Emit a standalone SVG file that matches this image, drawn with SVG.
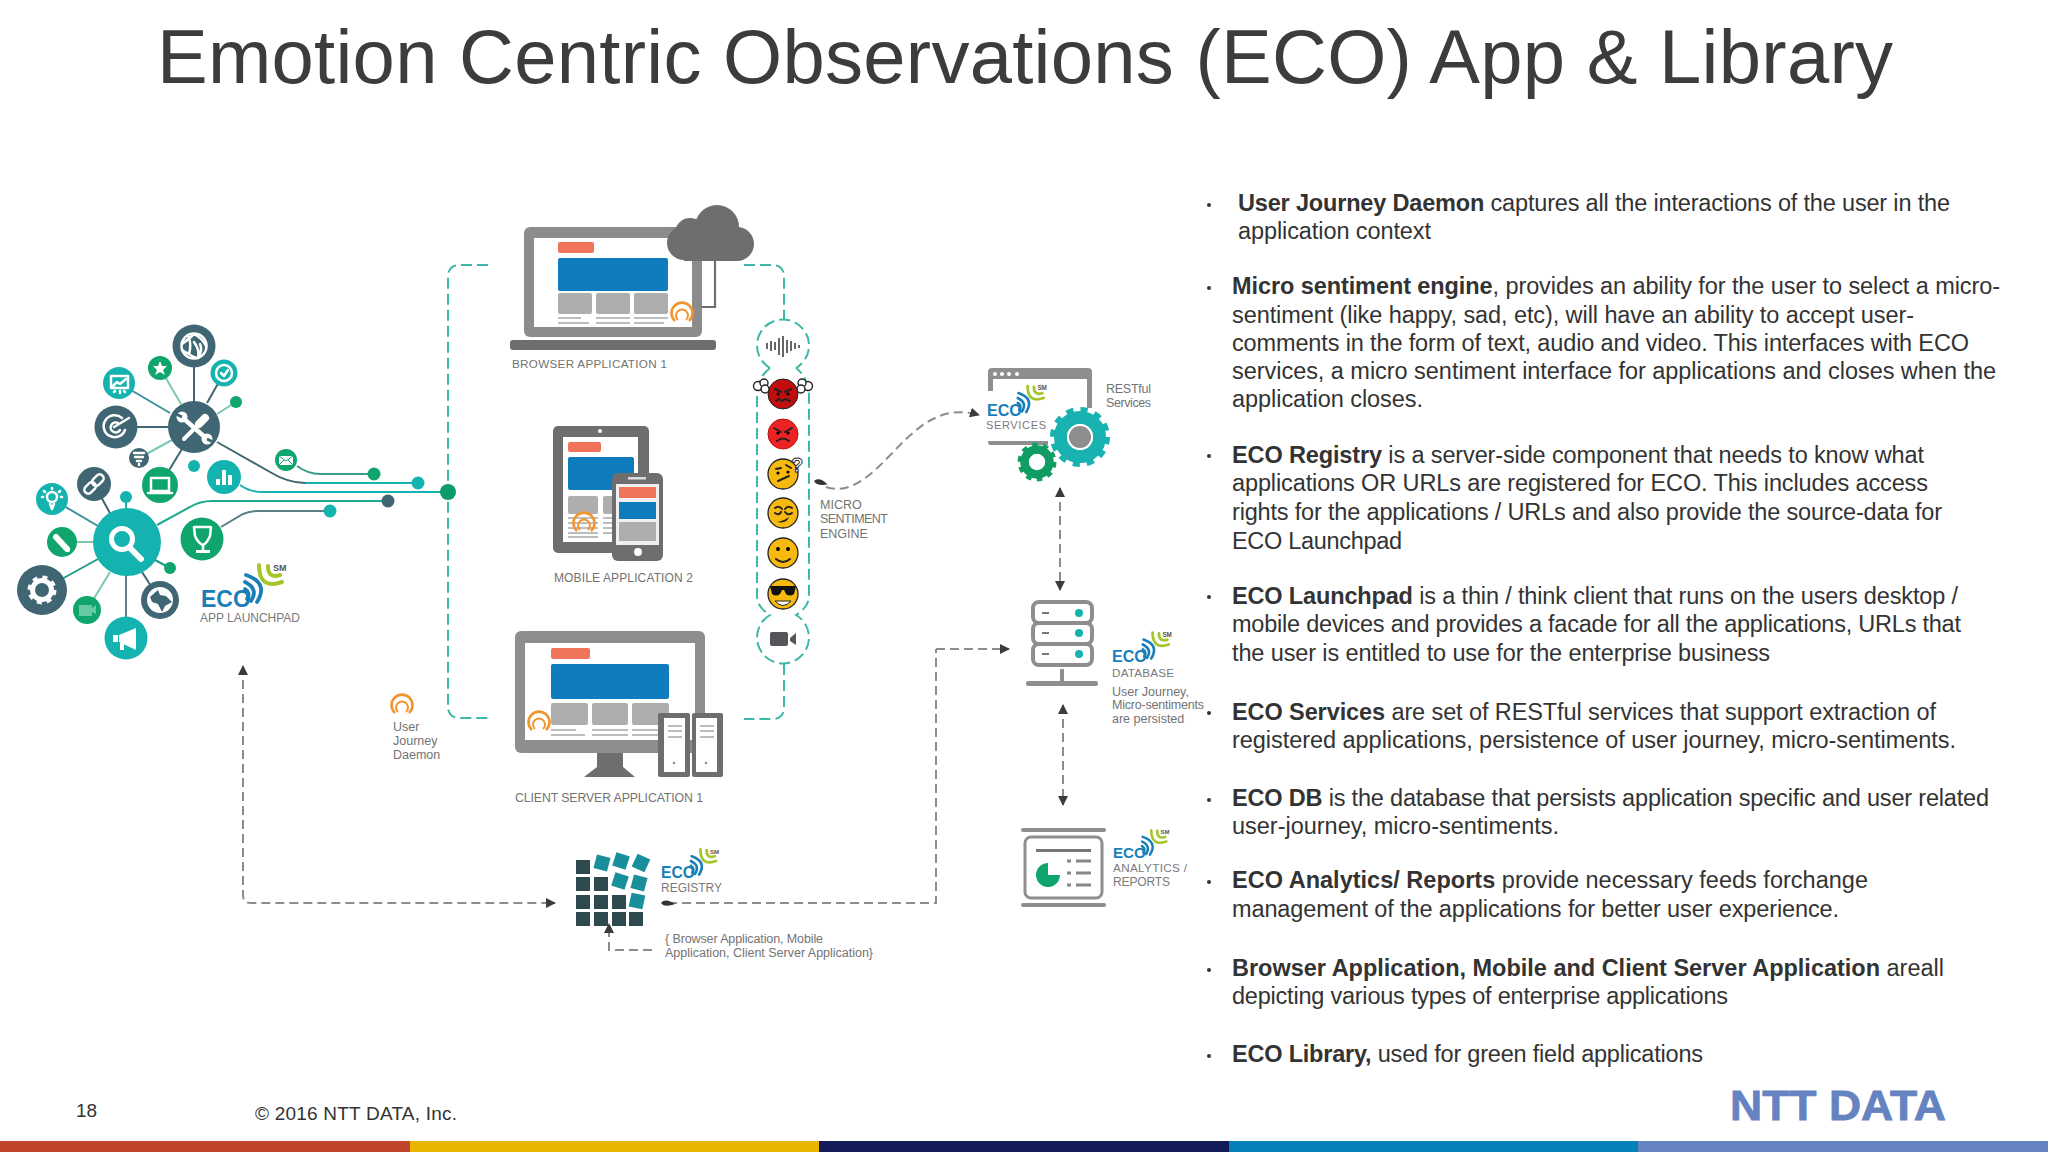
<svg xmlns="http://www.w3.org/2000/svg" xmlns:xlink="http://www.w3.org/1999/xlink" width="2048" height="1152" viewBox="0 0 2048 1152">
<style>
text{font-family:"Liberation Sans",Arial,sans-serif}
.title{font-size:76px;fill:#3c3c3c}
.b{font-size:23.5px;fill:#333}
.b tspan{font-weight:bold}
.g{font-size:12.5px;fill:#737373}
.eco{font-size:23px;font-weight:bold;fill:#1a7fb8}
.sm{font-size:9px;font-weight:bold;fill:#555}
.ec{font-size:11.7px;fill:#7a7a7a}
.tdash{fill:none;stroke:#3db8a8;stroke-width:2;stroke-dasharray:11 5}
.dash{fill:none;stroke:#8c8c8c;stroke-width:2;stroke-dasharray:9 5}
.sp{fill:none;stroke-width:2}
.dk{fill:#3f6672}.te{fill:#15b3b0}.gr{fill:#0fa56d}
.wf{fill:#fff}.ws{fill:none;stroke:#fff;stroke-width:2.5;stroke-linecap:round;stroke-linejoin:round}
.red{fill:#f0745c}.blu{fill:#0f7dbd}.gry{fill:#aeaeae}.ln{stroke:#a8a8a8;stroke-width:1.6}
.em{fill:#f7b90f;stroke:#222;stroke-width:1.3}
.ef{fill:none;stroke:#222;stroke-width:2;stroke-linecap:round}
.dark{fill:#2f4a4f}.tile{fill:#1a8f9c}
</style>
<defs>
<marker id="ah" viewBox="0 0 10 10" refX="9" refY="5" markerWidth="10" markerHeight="10" markerUnits="userSpaceOnUse" orient="auto-start-reverse"><path d="M0,0L10,5L0,10z" fill="#3b3b3b"/></marker>
<g id="arcs" fill="none" stroke-linecap="round">
<g stroke="#1a7fb8" stroke-width="3.8"><path d="M45,-32Q68,-24 56,-5"/><path d="M44,-25Q58,-18 50,-6"/><path d="M44,-18Q50,-14 46,-8"/></g>
<g stroke="#a4c62a" stroke-width="4"><path d="M58,-42Q58,-17 81,-25"/><path d="M67,-41Q67,-28 79,-32"/></g>
</g>
<g id="ujd" fill="none" stroke="#f0942e"><path stroke-width="2.6" d="M-7,8A10.5,10.5 0 1 1 7,8"/><path stroke-width="2" d="M-4,7A6,6 0 1 1 4,7"/></g>
<path id="drop" d="M0,0C3,-4 8,-3 14,1C8,3 3,4 0,0z" fill="#333"/>
</defs>
<rect width="2048" height="1152" fill="#fff"/>
<text class="title" x="157" y="83" textLength="1736">Emotion Centric Observations (ECO) App &amp; Library</text>

<g id="connectors">
<g id="cluster-lines">
<path class="sp" stroke="#3f6672" d="M217,442L270,472Q288,483 305,483H412"/>
<path class="sp" stroke="#15b3b0" d="M305,483H412"/>
<path class="sp" stroke="#3f9c8c" d="M297,466Q308,474 320,474H374"/>
<path class="sp" stroke="#15b3b0" d="M240,485Q250,492 262,492H448"/>
<path class="sp" stroke="#1ca98e" d="M157,525L190,507Q200,501 212,501H388"/>
<path class="sp" stroke="#5a7f86" d="M221,527L243,514Q250,511 258,511H330"/>
<path class="sp" stroke="#3f6672" d="M194,346V427"/>
<path class="sp" stroke="#7cc7ae" d="M160,368L181,404"/>
<path class="sp" stroke="#3f6672" d="M224,373L207,403"/>
<path class="sp" stroke="#7cc7ae" d="M236,402L217,414"/>
<path class="sp" stroke="#3f8f9c" d="M119,383L170,413"/>
<path class="sp" stroke="#3f6672" d="M116,427H170"/>
<path class="sp" stroke="#7cc7ae" d="M139,458L172,440"/>
<path class="sp" stroke="#3f6672" d="M160,485L182,449"/>
<path class="sp" stroke="#3f6672" d="M94,484L111,515"/>
<path class="sp" stroke="#15b3b0" d="M126,497V512"/>
<path class="sp" stroke="#3f8f9c" d="M52,499L98,526"/>
<path class="sp" stroke="#7cc7ae" d="M62,542H95"/>
<path class="sp" stroke="#1f9c80" d="M42,590L98,559"/>
<path class="sp" stroke="#7cc7ae" d="M87,610L110,572"/>
<path class="sp" stroke="#5f7f88" d="M126,638V575"/>
<path class="sp" stroke="#3f6672" d="M160,600L142,572"/>
<path class="sp" stroke="#1f9c80" d="M170,568L155,560"/>
</g>
<path class="tdash" d="M488,265H460Q448,265 448,277V706Q448,718 460,718H488"/>
<path class="tdash" d="M744,265H772Q784,265 784,277V320"/>
<path class="tdash" d="M784,664V707Q784,719 772,719H744"/>
<path class="dash" marker-start="url(#ah)" d="M243,666V895Q243,903 251,903H546"/>
<path class="dash" marker-end="url(#ah)" d="M546,903H555"/>
<path class="dash" d="M668,903H936V649"/>
<path class="dash" marker-end="url(#ah)" d="M936,649H1009"/>
<use href="#drop" transform="translate(661,903)"/>
<path class="dash" stroke-width="1.6" marker-end="url(#ah)" d="M652,950H609V924"/>
<path class="dash" marker-end="url(#ah)" d="M826,487C855,497 880,465 900,445C922,423 945,405 979,415"/>
<use href="#drop" transform="translate(814,481) rotate(10)"/>
<path class="dash" stroke="#666" marker-start="url(#ah)" marker-end="url(#ah)" d="M1060,488V590"/>
<path class="dash" marker-start="url(#ah)" marker-end="url(#ah)" d="M1063,705V805"/>
<circle cx="374" cy="474" r="6.5" class="gr"/>
<circle cx="418" cy="483" r="6.5" class="te"/>
<circle cx="448" cy="492" r="8" fill="#0c9c6a"/>
<circle cx="388" cy="501" r="6.5" class="dk"/>
<circle cx="330" cy="511" r="6.5" class="te"/>
</g>

<g id="launchpad">
<g id="hub-search"><circle cx="127" cy="542" r="34" class="te"/><circle cx="122" cy="539" r="10.5" fill="none" stroke="#fff" stroke-width="5"/><path d="M130,548L141,559" stroke="#fff" stroke-width="6" stroke-linecap="round"/></g>
<g id="hub-tools"><circle cx="194" cy="427" r="26" class="dk"/><path d="M183,418L207,439" stroke="#fff" stroke-width="4.5" stroke-linecap="round"/><path d="M199,424L184,439" stroke="#fff" stroke-width="4" stroke-linecap="round"/><path d="M205,418L199,424" stroke="#fff" stroke-width="8" stroke-linecap="round"/><circle cx="182" cy="417" r="5.5" class="wf"/><path d="M176,414L182,417" stroke="#3f6672" stroke-width="3"/><circle cx="207" cy="439" r="5.5" class="wf"/><path d="M213,442L207,439" stroke="#3f6672" stroke-width="3"/></g>
<g id="n-globe"><circle cx="194" cy="346" r="21.5" class="dk"/><circle cx="194" cy="346" r="12.5" class="ws" stroke-width="1.8"/><path class="ws" stroke-width="1.1" d="M182,344Q190,338 194,334Q202,338 206,346M188,335Q192,344 189,354Q194,358 198,358Q200,350 194,342M189,354Q184,352 182,350M200,344Q203,350 198,358"/></g>
<g id="n-star"><circle cx="160" cy="368" r="12" class="gr"/><path class="wf" d="M160,361L162,366L167,366L163,370L165,375L160,372L155,375L157,370L153,366L158,366z"/></g>
<g id="n-clock"><circle cx="224" cy="373" r="13.5" class="te"/><circle cx="224" cy="373" r="8" class="ws" stroke-width="1.5"/><path class="ws" stroke-width="1.3" d="M221,373L224,376L228,370"/></g>
<circle id="n-d1" cx="236" cy="402" r="6" class="gr"/>
<g id="n-chart"><circle cx="119" cy="383" r="16" class="te"/><rect x="111" y="376" width="17" height="12" class="ws" stroke-width="1.4"/><path class="ws" stroke-width="1.3" d="M113,386L117,382L120,384L126,379M115,391L114,392M120,391V393M124,391L125,392"/></g>
<g id="n-target"><circle cx="116" cy="427" r="21.5" class="dk"/><path class="ws" stroke-width="2.2" d="M122,418A11,11 0 1 0 125,430"/><path class="ws" stroke-width="1.8" d="M118,423A5,5 0 1 0 120,430"/><path class="ws" stroke-width="2.2" d="M114,427L129,418"/></g>
<g id="n-funnel"><circle cx="139" cy="458" r="10" class="dk"/><path class="ws" stroke-width="2" d="M134,453H144M135,457H143M137,461H141M139,464V465"/></g>
<g id="n-laptop"><circle cx="160" cy="485" r="18" class="gr"/><rect x="151" y="478" width="18" height="13" class="ws" stroke-width="1.5"/><path class="ws" stroke-width="1.5" d="M148,493H172"/></g>
<circle id="n-d2" cx="194" cy="466" r="6" class="te"/>
<g id="n-bars"><circle cx="224" cy="477" r="17" class="te"/><path d="M218,479h4v6h-4zM224,470h4v15h-4zM230,475h4v10h-4z" class="wf" transform="translate(-2,0)"/></g>
<g id="n-mail"><circle cx="286" cy="460" r="11" class="gr"/><rect x="279" y="456" width="14" height="9" class="wf"/><path d="M279,456L286,461L293,456M279,465L284,460M293,465L288,460" fill="none" stroke="#0fa56d" stroke-width="1"/></g>
<g id="n-link"><circle cx="94" cy="484" r="17" class="dk"/><g transform="rotate(-45 94 484)"><rect x="82" y="480" width="13" height="8" rx="4" class="ws"/><rect x="93" y="480" width="13" height="8" rx="4" class="ws"/></g></g>
<circle id="n-d3" cx="126" cy="497" r="6" class="te"/>
<g id="n-bulb"><circle cx="52" cy="499" r="16" class="te"/><circle cx="52" cy="497" r="5" class="ws" stroke-width="1.6"/><path class="ws" stroke-width="2" d="M50,504L52,509L54,504"/><path class="ws" stroke-width="1.2" d="M52,488V489M44,491L45,492M60,491L59,492M42,497H43M61,497H62"/></g>
<g id="n-pencil"><circle cx="62" cy="542" r="15" class="gr"/><path d="M56,537L67,549" stroke="#fff" stroke-width="6" stroke-linecap="round"/><path d="M70,552L64,550L68,546z" class="wf"/></g>
<g id="n-gear"><circle cx="42" cy="590" r="25" class="dk"/><circle cx="42" cy="590" r="9.5" fill="none" stroke="#fff" stroke-width="5"/><circle cx="42" cy="590" r="12.5" fill="none" stroke="#fff" stroke-width="4" stroke-dasharray="4.9 4.92"/></g>
<g id="n-video"><circle cx="87" cy="610" r="14" class="gr"/><rect x="79" y="605" width="13" height="11" fill="#66c9a2"/><path d="M92,608L96,605V614L92,612z" fill="#66c9a2"/></g>
<g id="n-mega"><circle cx="126" cy="638" r="21.5" class="te"/><path class="wf" d="M113,635h5v7h-5zM119,635L136,628V650L119,642zM120,643h4v7h-4z"/></g>
<g id="n-globe2"><circle cx="160" cy="600" r="19" class="dk"/><circle cx="160" cy="600" r="13" class="wf"/><path class="dk" d="M150,597L158,590L160,595L166,596L172,602L165,606L162,612L158,604L152,602z"/></g>
<circle id="n-d4" cx="170" cy="568" r="6" class="gr"/>
<g id="n-trophy"><circle cx="202" cy="539" r="21.5" class="gr"/><path class="ws" stroke-width="2" d="M194,527H211L210,536Q207,543 203,545Q198,543 195,536zM203,545V551"/><path class="wf" d="M196,550h14v3h-14z"/></g>
<g id="logo-launchpad" transform="translate(201,607)"><use href="#arcs"/><text class="eco" x="0" y="0">ECO</text><text class="sm" x="72" y="-36">SM</text></g>
<text class="ec" x="200" y="622" font-size="12" style="font-size:12px" textLength="100">APP LAUNCHPAD</text>
</g>

<g id="browser-app">
<rect x="524" y="227" width="178" height="110" rx="6" fill="#8c8c8c"/>
<rect x="534" y="238" width="158" height="89" fill="#fff"/>
<rect x="558" y="242" width="36" height="11" rx="2" class="red"/>
<rect x="558" y="258" width="110" height="33" rx="2" class="blu"/>
<rect x="558" y="293" width="34" height="21" rx="2" class="gry"/><rect x="596" y="293" width="34" height="21" rx="2" class="gry"/><rect x="634" y="293" width="34" height="21" rx="2" class="gry"/>
<path class="ln" d="M558,318H581M558,323H589M596,318H630M596,323H630M634,318H668M634,323H664"/>
<rect x="510" y="340" width="206" height="10" rx="3" fill="#6e6e6e"/>
<path d="M715,258V307H701" fill="none" stroke="#6e6e6e" stroke-width="2.2"/>
<g fill="#6e6e6e"><circle cx="717" cy="227" r="22"/><circle cx="690" cy="233" r="15"/><circle cx="684" cy="243" r="17"/><circle cx="737" cy="244" r="17"/><rect x="684" y="235" width="53" height="26"/></g>
<use href="#ujd" transform="translate(682,313)"/>
<text class="g" style="font-size:11.7px" x="512" y="368" textLength="155">BROWSER APPLICATION 1</text>
</g>

<g id="mobile-app">
<rect x="553" y="426" width="96" height="127" rx="5" fill="#6e6e6e"/>
<rect x="563" y="437" width="75" height="105" fill="#fff"/>
<circle cx="600" cy="431" r="2" class="wf"/>
<rect x="568" y="442" width="33" height="10" rx="2" class="red"/>
<rect x="568" y="457" width="66" height="33" rx="2" class="blu"/>
<rect x="568" y="496" width="30" height="18" rx="2" class="gry"/><rect x="603" y="496" width="32" height="18" rx="2" class="gry"/>
<path class="ln" d="M568,518H598M568,523H598M568,528H598M568,533H598M568,537H598M603,518H625M603,523H625M603,528H625M603,533H625"/>
<use href="#ujd" transform="translate(584,523)"/>
<rect x="612" y="473" width="51" height="88" rx="6" fill="#6e6e6e"/>
<rect x="616" y="484" width="43" height="61" fill="#f0f0f0"/>
<rect x="628" y="477" width="18" height="2.5" fill="#ddd"/>
<rect x="619" y="487" width="37" height="11" class="red"/>
<rect x="619" y="502" width="37" height="17" class="blu"/>
<rect x="619" y="522" width="37" height="19" class="gry"/>
<circle cx="638" cy="552" r="4" class="wf"/>
<text class="g" style="font-size:12px" x="554" y="582" textLength="139">MOBILE APPLICATION 2</text>
</g>

<g id="client-server-app">
<path fill="#6e6e6e" d="M597,750H623V767L635,777H584L597,767z"/>
<rect x="515" y="631" width="190" height="122" rx="6" fill="#8e8e8e"/>
<rect x="525" y="643" width="170" height="97" fill="#fff"/>
<rect x="551" y="648" width="39" height="11" rx="2" class="red"/>
<rect x="551" y="664" width="118" height="35" rx="2" class="blu"/>
<rect x="551" y="703" width="37" height="22" rx="2" class="gry"/><rect x="592" y="703" width="36" height="22" rx="2" class="gry"/><rect x="632" y="703" width="37" height="22" rx="2" class="gry"/>
<path class="ln" d="M551,730H576M551,735H585M592,730H628M592,735H628M632,730H669M632,735H669"/>
<use href="#ujd" transform="translate(539,722)"/>
<rect x="658" y="713" width="32" height="64" rx="2" fill="#6e6e6e"/><rect x="692" y="713" width="31" height="64" rx="2" fill="#6e6e6e"/>
<rect x="664" y="718" width="21" height="54" class="wf"/><rect x="696" y="718" width="21" height="54" class="wf"/>
<path class="ln" stroke-width="2" d="M668,726H682M668,731H682M668,737H682M700,726H714M700,731H714M700,737H714"/>
<circle cx="674" cy="763" r="1.2" fill="#888"/><circle cx="706" cy="763" r="1.2" fill="#888"/>
<text class="g" style="font-size:12.3px" x="515" y="802" textLength="188">CLIENT SERVER APPLICATION 1</text>
</g>

<g id="user-journey-daemon">
<use href="#ujd" transform="translate(402,705)"/>
<text class="g" x="393" y="731">User</text><text class="g" x="393" y="745">Journey</text><text class="g" x="393" y="759">Daemon</text>
</g>

<g id="micro-sentiment-engine">
<path class="tdash" d="M770,368A26,26 0 1 1 796,368"/>
<path class="tdash" d="M770,368Q757,378 757,396V596Q757,607 770,615A26,26 0 1 0 796,615Q809,607 809,596V396Q809,378 796,368"/>
<g fill="#666"><rect x="766" y="343" width="2" height="6"/><rect x="770" y="341" width="2" height="10"/><rect x="774" y="342" width="2" height="8"/><rect x="778" y="338" width="2" height="17"/><rect x="782" y="336" width="2" height="21"/><rect x="786" y="340" width="2" height="13"/><rect x="790" y="341" width="2" height="10"/><rect x="794" y="343" width="2" height="6"/><rect x="798" y="345" width="2" height="3"/></g>
<g id="emoji-1"><circle cx="783" cy="394" r="15" fill="#c00d0d" stroke="#222"/><path d="M775,389L781,392M791,389L785,392M776,401L779,399L782,401L785,399L790,401" class="ef" stroke-width="1.6"/><circle cx="778" cy="394" r="1.5"/><circle cx="788" cy="394" r="1.5"/></g>
<g fill="#fff" stroke="#222" stroke-width="1.4"><circle cx="758" cy="386" r="4.5"/><circle cx="764" cy="383" r="4"/><circle cx="765" cy="389" r="4"/><circle cx="808" cy="386" r="4.5"/><circle cx="802" cy="383" r="4"/><circle cx="801" cy="389" r="4"/></g>
<g id="emoji-2"><circle cx="783" cy="434" r="15" fill="#ed2224" stroke="#b11"/><path d="M774,428L781,432M792,428L785,432M777,441Q783,436 789,441" class="ef"/><circle cx="778" cy="433" r="1.6"/><circle cx="788" cy="433" r="1.6"/></g>
<g id="emoji-3"><circle cx="783" cy="474" r="15" class="em"/><path d="M776,469L781,468M786,465L791,468M778,481L789,476" class="ef"/><circle cx="778" cy="473" r="1.6"/><circle cx="788" cy="472" r="1.6"/><text x="791" y="472" font-size="20" font-weight="bold" fill="#fff" stroke="#222" stroke-width=".9">?</text></g>
<g id="emoji-4"><circle cx="783" cy="513" r="15" class="em"/><path d="M775,508Q779,505 782,509M785,509Q788,505 792,508M775,513Q779,516 781,512M785,512Q788,516 792,513" class="ef" stroke-width="1.5"/><path d="M777,522Q784,521 789,517Q787,524 777,522z" fill="#222"/></g>
<g id="emoji-5"><circle cx="783" cy="553" r="15" class="em"/><path d="M776,559Q783,565 790,559" class="ef"/><circle cx="778" cy="549" r="2"/><circle cx="788" cy="549" r="2"/></g>
<g id="emoji-6"><circle cx="783" cy="594" r="15" class="em"/><path d="M770,586H796L794,594Q790,597 786,594L784,590H782L780,594Q776,597 772,594z" fill="#111"/><path d="M775,601Q783,610 791,601z" fill="#fff" stroke="#222"/></g>
<g fill="#55555a"><rect x="770" y="632" width="18" height="14" rx="2"/><path d="M790,638L796,633V645L790,641z"/></g>
<text class="g" x="820" y="509">MICRO</text><text class="g" x="820" y="523" textLength="68">SENTIMENT</text><text class="g" x="820" y="538">ENGINE</text>
</g>

<g id="eco-registry">
<g class="dark"><rect x="576" y="912" width="14" height="14"/><rect x="594" y="912" width="14" height="14"/><rect x="612" y="912" width="14" height="14"/><rect x="629" y="912" width="14" height="14"/><rect x="576" y="895" width="14" height="14"/><rect x="594" y="895" width="14" height="14"/><rect x="612" y="895" width="14" height="14"/><rect x="576" y="877" width="14" height="14"/><rect x="594" y="877" width="14" height="14"/><rect x="576" y="860" width="14" height="14"/></g>
<g class="tile"><rect x="-7" y="-7" width="14" height="14" transform="translate(637,901) rotate(12)"/><rect x="-7" y="-7" width="14" height="14" transform="translate(620,881) rotate(18)"/><rect x="-7" y="-7" width="14" height="14" transform="translate(639,883) rotate(15)"/><rect x="-7" y="-7" width="14" height="14" transform="translate(602,863) rotate(15)"/><rect x="-7" y="-7" width="14" height="14" transform="translate(621,861) rotate(18)"/><rect x="-7" y="-7" width="14" height="14" transform="translate(641,863) rotate(25)"/></g>
<g transform="translate(661,878) scale(.68)"><use href="#arcs"/><text class="eco">ECO</text><text class="sm" x="72" y="-36">SM</text></g>
<text class="ec" style="font-size:12px" x="661" y="892" textLength="61">REGISTRY</text>
<text class="g" x="665" y="943" textLength="158">{ Browser Application, Mobile</text>
<text class="g" x="665" y="957" textLength="208">Application,  Client Server Application}</text>
</g>

<g id="eco-services">
<path fill="#8e8e8e" d="M988,372Q988,368 992,368H1088Q1092,368 1092,372V408H1087V379H993V391H988zM988,441H1048V445H990Q988,445 988,441z"/>
<g class="wf"><circle cx="995" cy="374" r="2"/><circle cx="1002" cy="374" r="2"/><circle cx="1009" cy="374" r="2"/><circle cx="1017" cy="374" r="2"/></g>
<g transform="translate(987,415.5) scale(.7)"><use href="#arcs"/><text class="eco">ECO</text><text class="sm" x="72" y="-36">SM</text></g>
<text class="ec" style="font-size:11px" x="986" y="429" textLength="60">SERVICES</text>
<circle cx="1037" cy="462" r="12.5" fill="none" stroke="#0f9d63" stroke-width="8.5"/><circle cx="1037" cy="462" r="17" fill="none" stroke="#0f9d63" stroke-width="5" stroke-dasharray="5.34 5.34"/>
<circle cx="1080" cy="437" r="19.5" fill="none" stroke="#18b2b0" stroke-width="13"/><circle cx="1080" cy="437" r="27" fill="none" stroke="#18b2b0" stroke-width="6" stroke-dasharray="7.07 7.07"/>
<circle cx="1080" cy="437" r="13" class="wf"/><circle cx="1080" cy="437" r="11" fill="#8e8e8e"/>
<text class="g" x="1106" y="393" textLength="45">RESTful</text><text class="g" x="1106" y="407" textLength="45">Services</text>
</g>

<g id="eco-database">
<g fill="none" stroke="#8e8e8e" stroke-width="4"><rect x="1033" y="602" width="59" height="21" rx="6"/><rect x="1033" y="623" width="59" height="21" rx="6"/><rect x="1033" y="644" width="59" height="21" rx="6"/></g>
<path d="M1042,613H1049M1042,633H1049M1042,654H1049" stroke="#777" stroke-width="2"/>
<g class="te"><circle cx="1079" cy="613" r="4"/><circle cx="1079" cy="633" r="4"/><circle cx="1079" cy="654" r="4"/></g>
<rect x="1060" y="669" width="4" height="13" fill="#8e8e8e"/><rect x="1026" y="681" width="72" height="5" rx="2" fill="#8e8e8e"/>
<g transform="translate(1112,662) scale(.7)"><use href="#arcs"/><text class="eco">ECO</text><text class="sm" x="72" y="-36">SM</text></g>
<text class="ec" x="1112" y="677" textLength="62">DATABASE</text>
<text class="g" x="1112" y="696">User Journey,</text><text class="g" x="1112" y="709" textLength="92">Micro-sentiments</text><text class="g" x="1112" y="723">are persisted</text>
</g>

<g id="eco-analytics">
<rect x="1021" y="828" width="85" height="4" rx="2" fill="#8e8e8e"/><rect x="1021" y="903" width="85" height="4" rx="2" fill="#8e8e8e"/>
<rect x="1025" y="837" width="77" height="61" rx="6" fill="none" stroke="#8e8e8e" stroke-width="3"/>
<rect x="1036" y="849" width="55" height="3" fill="#777"/>
<path class="gr" d="M1048,863V875H1060A12,12 0 1 1 1048,863z"/>
<path d="M1067,861H1071M1076,861H1091M1067,873H1071M1076,873H1091M1067,885H1071M1076,885H1091" stroke="#888" stroke-width="3"/>
<g transform="translate(1113,858) scale(.66)"><use href="#arcs"/><text class="eco">ECO</text><text class="sm" x="72" y="-36">SM</text></g>
<text class="ec" x="1113" y="872" textLength="74">ANALYTICS /</text><text class="ec" style="font-size:12px" x="1113" y="886" textLength="57">REPORTS</text>
</g>

<g id="notes">
<g fill="#333"><circle cx="1209" cy="205" r="2"/><circle cx="1209" cy="288" r="2"/><circle cx="1209" cy="456" r="2"/><circle cx="1209" cy="597" r="2"/><circle cx="1209" cy="713" r="2"/><circle cx="1209" cy="800" r="2"/><circle cx="1209" cy="882" r="2"/><circle cx="1209" cy="970" r="2"/><circle cx="1209" cy="1056" r="2"/></g>
<text class="b" x="1238" y="211" textLength="712"><tspan>User Journey Daemon</tspan> captures all the interactions of the user in the</text>
<text class="b" x="1238" y="239" textLength="193">application context</text>
<text class="b" x="1232" y="294" textLength="768"><tspan>Micro sentiment engine</tspan>, provides an ability for the user to select a micro-</text>
<text class="b" x="1232" y="323" textLength="682">sentiment (like happy, sad, etc), will have an ability to accept user-</text>
<text class="b" x="1232" y="351" textLength="737">comments in the form of text, audio and video. This interfaces with ECO</text>
<text class="b" x="1232" y="379" textLength="764">services, a micro sentiment interface for applications and  closes when the</text>
<text class="b" x="1232" y="407" textLength="191">application closes.</text>
<text class="b" x="1232" y="463" textLength="692"><tspan>ECO Registry</tspan> is a server-side component that needs to know what</text>
<text class="b" x="1232" y="491" textLength="696">applications OR URLs are registered for ECO. This includes access</text>
<text class="b" x="1232" y="520" textLength="710">rights for the applications / URLs and also provide the source-data for</text>
<text class="b" x="1232" y="549" textLength="170">ECO Launchpad</text>
<text class="b" x="1232" y="604" textLength="726"><tspan>ECO Launchpad</tspan> is a thin / think client that runs on the users desktop /</text>
<text class="b" x="1232" y="632" textLength="729">mobile devices and provides a facade for all the applications, URLs that</text>
<text class="b" x="1232" y="661" textLength="538">the user is entitled to use for the enterprise business</text>
<text class="b" x="1232" y="720" textLength="704"><tspan>ECO Services</tspan> are set of RESTful services that support extraction of</text>
<text class="b" x="1232" y="748" textLength="724">registered applications, persistence of user journey, micro-sentiments.</text>
<text class="b" x="1232" y="806" textLength="757"><tspan>ECO DB</tspan> is the database that persists application specific and user related</text>
<text class="b" x="1232" y="834" textLength="327">user-journey, micro-sentiments.</text>
<text class="b" x="1232" y="888" textLength="636"><tspan>ECO Analytics/ Reports</tspan> provide necessary feeds forchange</text>
<text class="b" x="1232" y="917" textLength="607">management of the applications  for better user experience.</text>
<text class="b" x="1232" y="976" textLength="712"><tspan>Browser Application, Mobile and Client Server Application</tspan> areall</text>
<text class="b" x="1232" y="1004" textLength="496">depicting various types of enterprise applications</text>
<text class="b" x="1232" y="1062" textLength="471"><tspan>ECO Library,</tspan> used for green field applications</text>
</g>

<g id="footer">
<text x="76" y="1117" font-size="19" fill="#333">18</text>
<text x="255" y="1120" font-size="19" fill="#333" textLength="202">© 2016 NTT DATA, Inc.</text>
<text x="1730" y="1120" font-size="43" font-weight="bold" fill="#6583c1" stroke="#6583c1" stroke-width=".8" textLength="216" lengthAdjust="spacingAndGlyphs">NTT DATA</text>
<rect x="0" y="1141" width="410" height="11" fill="#c0452a"/><rect x="410" y="1141" width="409" height="11" fill="#e8b600"/><rect x="819" y="1141" width="410" height="11" fill="#131c57"/><rect x="1229" y="1141" width="409" height="11" fill="#0580b8"/><rect x="1638" y="1141" width="410" height="11" fill="#6583c1"/>
</g>
</svg>
